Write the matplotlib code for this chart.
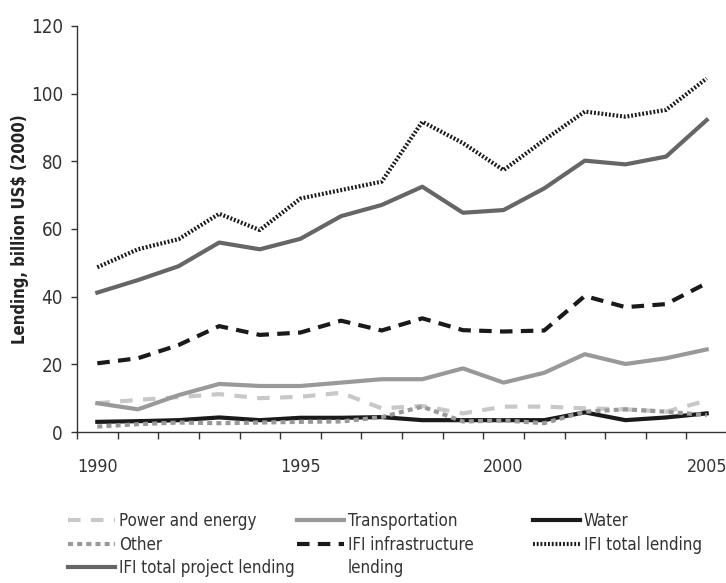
import numpy as np
import matplotlib
matplotlib.use("Agg")
import matplotlib.pyplot as plt
from matplotlib.lines import Line2D
from matplotlib.ticker import FixedLocator

plt.rcParams['font.family'] = ['DejaVu Sans']
plt.rcParams['font.stretch'] = 'condensed'

years = list(range(1990, 2006))
year_labels = ['1990', '1995', '2000', '2005']

power = [8.5, 9.5, 10.3, 11.2, 10.0, 10.4, 11.6, 7.0, 7.7, 5.5, 7.5, 7.5, 7.0, 6.7, 6.0, 9.3]
transport = [8.5, 6.7, 10.9, 14.2, 13.6, 13.6, 14.6, 15.6, 15.6, 18.8, 14.6, 17.5, 23.0, 20.1, 21.8, 24.4]
water = [3.0, 3.2, 3.5, 4.3, 3.5, 4.2, 4.2, 4.4, 3.5, 3.5, 3.5, 3.5, 5.8, 3.5, 4.3, 5.5]
other = [1.6, 2.3, 2.8, 2.6, 2.8, 3.0, 3.1, 4.4, 7.5, 3.1, 3.4, 2.6, 6.0, 6.7, 6.0, 5.0]
ifi_infra = [20.3, 21.8, 25.7, 31.3, 28.7, 29.4, 32.9, 30.0, 33.6, 30.1, 29.7, 30.0, 40.2, 36.9, 37.8, 44.0]
ifi_total = [48.7, 54.0, 57.0, 64.5, 59.7, 69.0, 71.5, 74.0, 91.7, 85.4, 77.4, 86.3, 94.7, 93.2, 95.2, 104.5]
ifi_project = [41.2, 44.9, 49.0, 56.0, 54.0, 57.1, 63.8, 67.1, 72.5, 64.8, 65.6, 72.0, 80.2, 79.1, 81.4, 92.2]

fig = plt.figure(figsize=(7.26, 5.83), dpi=100)
ax = fig.add_axes([77/726, 151/583, 650/726, 406/583])

x = np.arange(len(years))
lw = 3
l_power, = ax.plot(x, power, color='#c8c8c8', lw=lw, dashes=(3, 2.5), label='Power and energy')
l_trans, = ax.plot(x, transport, color='#999999', lw=lw, label='Transportation')
l_water, = ax.plot(x, water, color='#1a1a1a', lw=lw, label='Water')
l_other, = ax.plot(x, other, color='#999999', lw=lw, dashes=(1.2, 1.0), label='Other')
l_infra, = ax.plot(x, ifi_infra, color='#1a1a1a', lw=lw, dashes=(3, 2), label='IFI infrastructure')
l_total, = ax.plot(x, ifi_total, color='#1a1a1a', lw=lw, dashes=(0.45, 0.45), label='IFI total lending')
l_proj, = ax.plot(x, ifi_project, color='#666666', lw=lw, label='IFI total project lending')

ax.set_xlim(-0.5, 15.5)
ax.set_ylim(0, 120)
ax.set_yticks(np.arange(0, 121, 20))

label_pos = [years.index(int(y)) for y in year_labels]
ax.set_xticks(label_pos)
ax.set_xticklabels(year_labels)
ax.xaxis.set_minor_locator(FixedLocator(np.arange(-0.5, 15.0, 1.0)))
ax.tick_params(axis='x', which='major', length=0, pad=19, labelsize=12.8, labelcolor='#333333')
ax.tick_params(axis='x', which='minor', length=5, width=1, color='#333333', direction='out')
ax.tick_params(axis='y', length=4, width=1, color='#333333', pad=6, labelsize=13.5, labelcolor='#333333')

for s in ['top', 'right']:
    ax.spines[s].set_visible(False)
for s in ['left', 'bottom']:
    ax.spines[s].set_color('#333333')
    ax.spines[s].set_linewidth(1)

ax.set_ylabel('Lending, billion US$ (2000)', fontsize=12, fontweight='bold', color='#222222')
ax.yaxis.set_label_coords(-0.074, 0.5)

blank = Line2D([], [], color='none')
leg_kw = dict(loc='upper left', frameon=False, fontsize=12.2, handlelength=2.77, handletextpad=0.22,
              labelspacing=0.33, borderpad=0, borderaxespad=0, bbox_transform=fig.transFigure,
              labelcolor='#333333')
top = 1 - 512/583
leg1 = ax.legend([l_power, l_other, l_proj], ['Power and energy', 'Other', 'IFI total project lending'],
                 bbox_to_anchor=(68/726, top), **leg_kw)
ax.add_artist(leg1)
leg2 = ax.legend([l_trans, l_infra, blank], ['Transportation', 'IFI infrastructure', 'lending'],
                 bbox_to_anchor=(297/726, top), **leg_kw)
ax.add_artist(leg2)
ax.legend([l_water, l_total], ['Water', 'IFI total lending'],
          bbox_to_anchor=(533/726, top), **leg_kw)

fig.savefig('out.png', dpi=100)
